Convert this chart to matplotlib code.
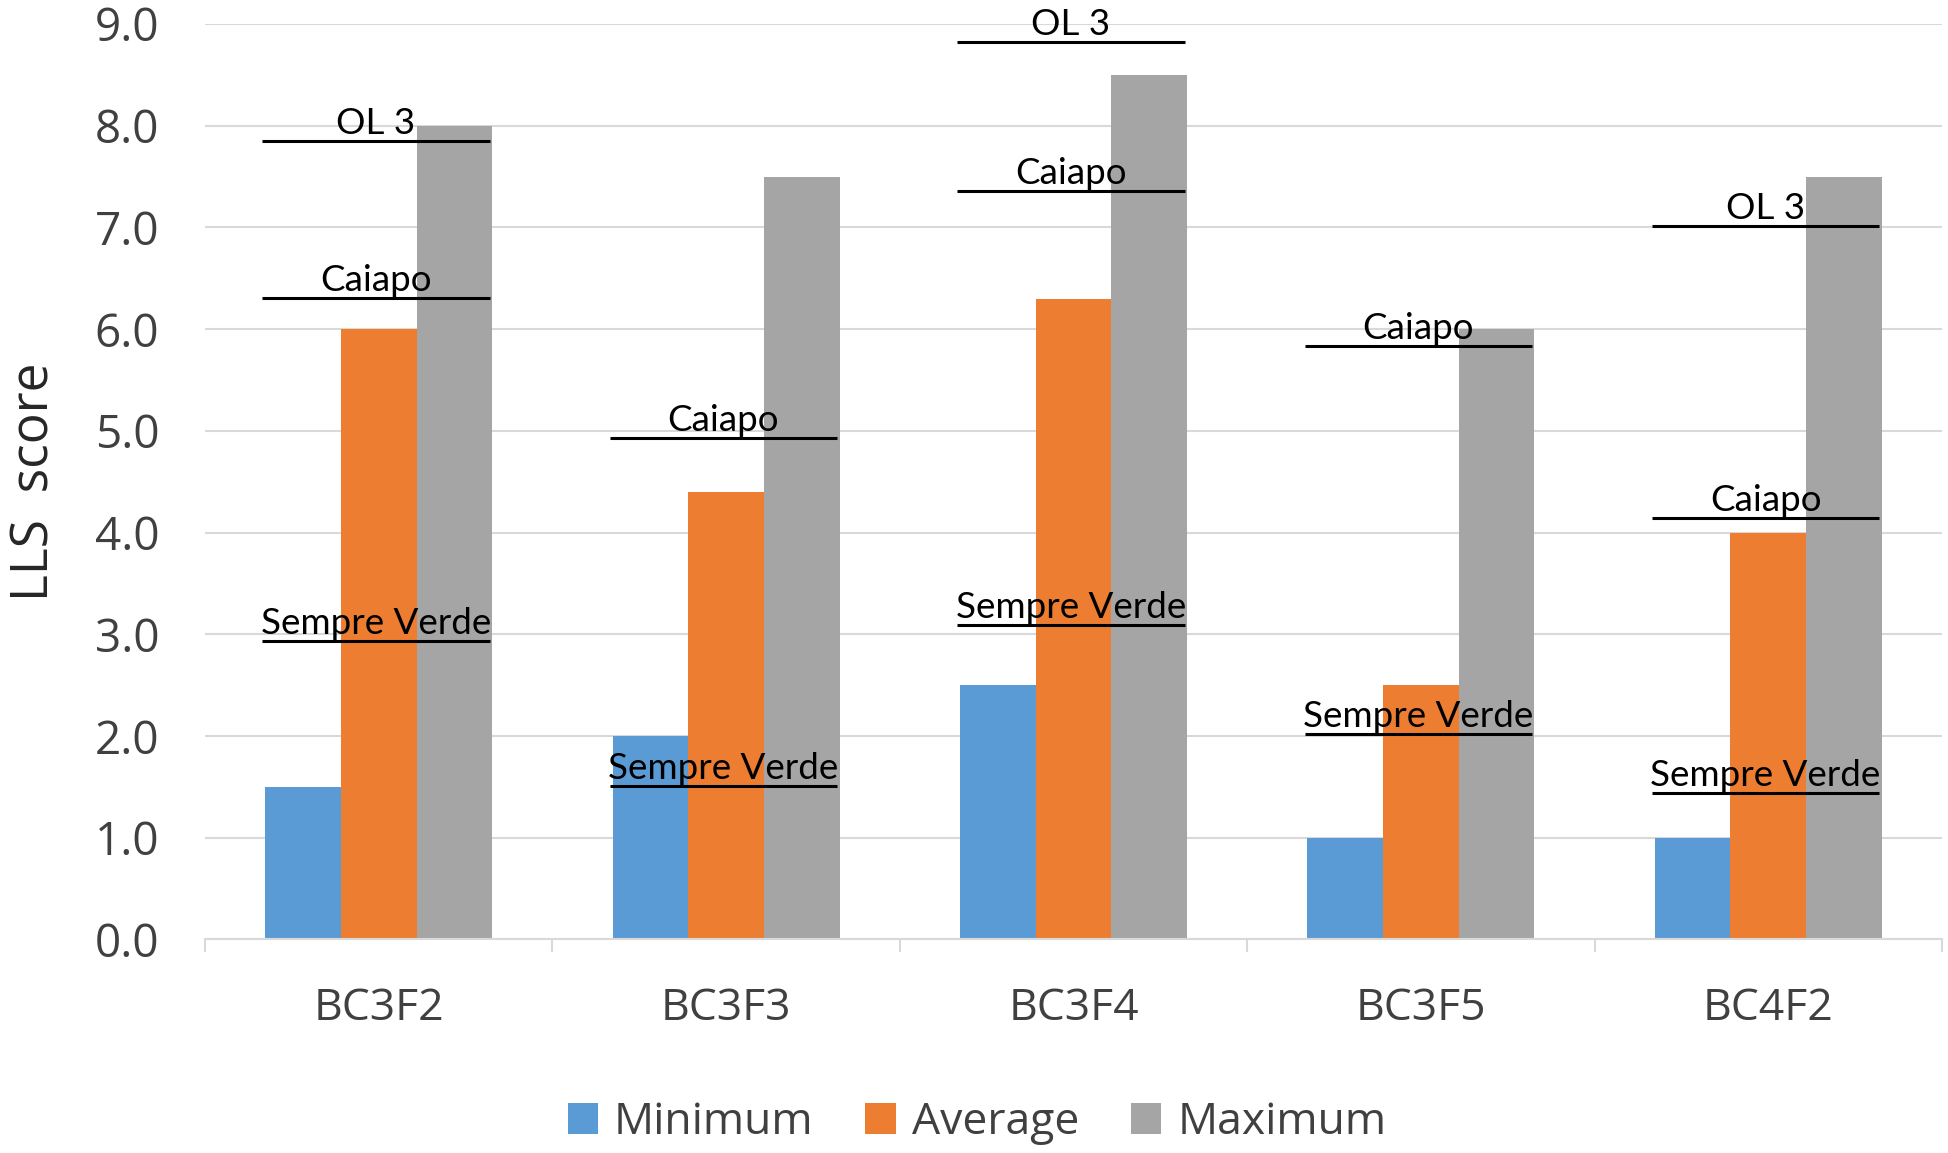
import matplotlib.pyplot as plt
import numpy as np

# values
lines = ['BC3F2', 'BC3F3', 'BC3F4', 'BC3F5', 'BC4F2']
minimum = [1.5, 2.0, 2.5, 1.0, 1.0]
average = [6.0, 4.4, 6.3, 2.5, 4.0]
maximum = [8.0, 7.5, 8.5, 6.0, 7.5]

# reference cultivars (horizontal marks), None = not drawn
ol3 = [7.85, None, 8.82, None, 7.01]
caiapo = [6.31, 4.93, 7.36, 5.83, 4.14]
sempre_verde = [2.93, 1.51, 3.09, 2.02, 1.44]

series = [('Minimum', minimum, '#5b9bd5'),
          ('Average', average, '#ed7d31'),
          ('Maximum', maximum, '#a5a5a5')]
refs = [('OL 3', ol3), ('Caiapo', caiapo), ('Sempre Verde', sempre_verde)]

fig = plt.figure(figsize=(19.49, 11.53), dpi=100)
ax = fig.add_axes([0.1052, 0.1852, 0.8912, 0.794])

x = np.arange(len(lines))
w = 0.218
for i, (name, vals, col) in enumerate(series):
    ax.bar(x + (i - 1) * w, vals, w, color=col, label=name, zorder=2)

# cultivar reference marks
for label, vals in refs:
    for xi, v in zip(x, vals):
        if v is None:
            continue
        ax.hlines(v, xi - 0.335, xi + 0.32, color='black', lw=2.2, zorder=3)
        ax.annotate(label, (xi, v), xytext=(-2, 5), textcoords='offset points',
                    ha='center', va='baseline', fontsize=26.5,
                    family='Lato', color='black', zorder=4)

ax.set_xlim(-0.5, len(lines) - 0.5)
ax.set_ylim(0, 9)
ax.set_yticks(np.arange(0, 10, 1))
ax.set_yticklabels([f'{v:.1f}' for v in np.arange(0, 10, 1)])
ax.set_xticks(x)
ax.set_xticklabels(lines)
ax.set_xticks(np.arange(-0.5, len(lines), 1), minor=True)

ax.grid(axis='y', color='#d9d9d9', lw=1.5, zorder=0)
ax.set_axisbelow(True)
for s in ['top', 'right', 'left']:
    ax.spines[s].set_visible(False)
ax.spines['bottom'].set_color('#d9d9d9')
ax.spines['bottom'].set_linewidth(1.5)

ax.tick_params(axis='y', length=0, pad=33, labelsize=33, labelcolor='#404040')
ax.tick_params(axis='x', which='major', length=0, pad=34, labelsize=32,
               labelcolor='#404040')
ax.tick_params(axis='x', which='minor', length=9, width=1.5, color='#d9d9d9')
for t in ax.get_xticklabels() + ax.get_yticklabels():
    t.set_family('Open Sans')

ax.set_ylabel('LLS  score', fontsize=37, family='Open Sans', color='#262626',
              va='center')
ax.yaxis.set_label_coords(-0.098, 0.5)

fig.legend(loc='center', bbox_to_anchor=(977 / 1949, 1 - 1123 / 1153), ncol=3,
           frameon=False, prop={'family': 'Open Sans', 'size': 32},
           labelcolor='#404040', handlelength=0.68, handleheight=0.7,
           handletextpad=0.36, columnspacing=1.17)

fig.savefig('out.png', dpi=100)
